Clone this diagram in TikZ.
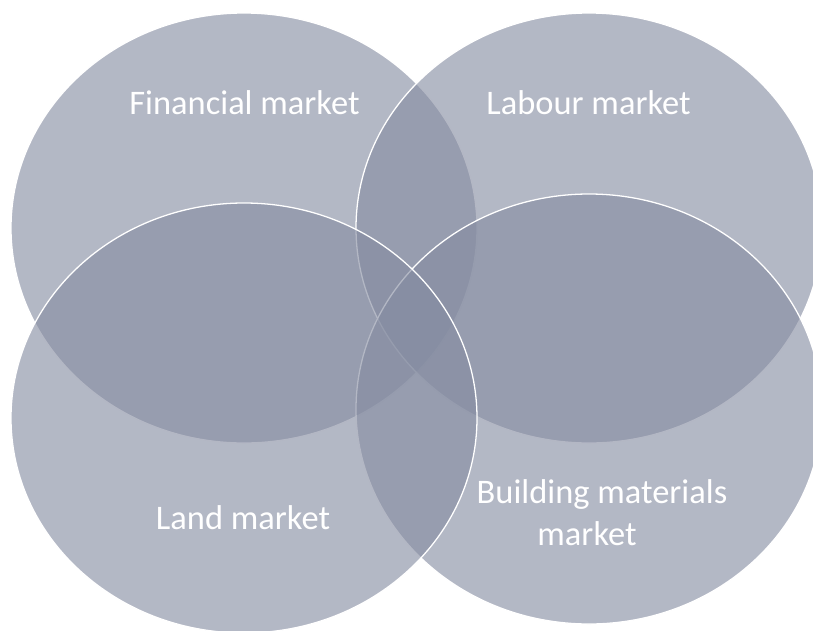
\documentclass[tikz,border=0pt]{standalone}
\usepackage{fontspec}
\setmainfont{Carlito}
\definecolor{vennfill}{RGB}{133,140,161}
\tikzset{
  market/.style = {fill = vennfill, fill opacity = 0.62, draw = white, line width = 1.1pt},
  marketlabel/.style = {text = white, anchor = base, inner sep = 0pt, font = \fontsize{29.4}{36}\selectfont}
}
\begin{document}
\begin{tikzpicture}[x = 0.03cm, y = -0.03cm]
            \useasboundingbox (0, 0) rectangle (813, 630);
            % four overlapping markets
            \draw [market] (244, 228) ellipse [x radius = 233, y radius = 215];
            \draw [market] (589, 228) ellipse [x radius = 233, y radius = 215];
            \draw [market] (589, 409) ellipse [x radius = 233, y radius = 215];
            \draw [market] (244, 418) ellipse [x radius = 233, y radius = 215];
            % labels
            \node [marketlabel] (financial) at (244.5, 114) {Financial market};
            \node [marketlabel] (labour) at (588.5, 114) {Labour market};
            \node [marketlabel] (land) at (243, 529) {Land market};
            \node [marketlabel] (building) at (602, 503) {Building materials};
            \node [marketlabel] (buildingmkt) at (587, 545) {market};
        \end{tikzpicture}
\end{document}
